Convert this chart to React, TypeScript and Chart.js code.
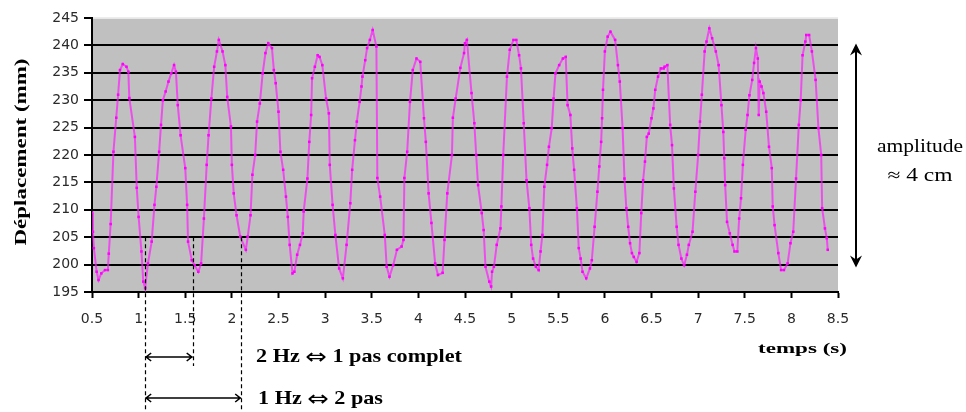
import { useEffect, useRef } from 'react';
import { Chart, registerables } from 'chart.js';

Chart.register(...registerables);

// Temps (s)
const times: number[] = [
  0.50, 0.51, 0.52, 0.55, 0.57, 0.60, 0.64, 0.67, 0.68, 0.70, 0.73, 0.76, 0.78, 0.80, 0.83, 0.87, 0.89, 0.90, 0.96, 0.98,
  1.00, 1.03, 1.05, 1.07, 1.10, 1.14, 1.17, 1.19, 1.22, 1.24, 1.26, 1.29, 1.32, 1.35, 1.38, 1.40, 1.42, 1.45, 1.50, 1.52,
  1.53, 1.57, 1.60, 1.64, 1.67, 1.70, 1.73, 1.75, 1.78, 1.81, 1.84, 1.86, 1.90, 1.93, 1.95, 1.99, 2.00, 2.02, 2.05, 2.09,
  2.15, 2.17, 2.20, 2.22, 2.25, 2.27, 2.30, 2.33, 2.36, 2.39, 2.43, 2.45, 2.47, 2.50, 2.52, 2.55, 2.58, 2.60, 2.62, 2.65,
  2.67, 2.70, 2.73, 2.76, 2.77, 2.81, 2.83, 2.85, 2.86, 2.89, 2.92, 2.94, 2.97, 3.01, 3.04, 3.05, 3.08, 3.11, 3.15, 3.19,
  3.23, 3.27, 3.29, 3.32, 3.34, 3.37, 3.39, 3.40, 3.43, 3.45, 3.48, 3.51, 3.55, 3.56, 3.59, 3.64, 3.66, 3.69, 3.73, 3.77,
  3.82, 3.84, 3.85, 3.88, 3.91, 3.94, 3.98, 4.02, 4.06, 4.08, 4.11, 4.14, 4.18, 4.21, 4.26, 4.28, 4.31, 4.36, 4.37, 4.40,
  4.45, 4.49, 4.50, 4.52, 4.57, 4.60, 4.62, 4.64, 4.68, 4.70, 4.72, 4.76, 4.78, 4.79, 4.81, 4.84, 4.88, 4.89, 4.91, 4.95,
  4.98, 5.02, 5.05, 5.08, 5.10, 5.13, 5.16, 5.19, 5.21, 5.23, 5.26, 5.29, 5.31, 5.33, 5.35, 5.38, 5.40, 5.43, 5.45, 5.47,
  5.51, 5.55, 5.58, 5.60, 5.63, 5.65, 5.67, 5.70, 5.72, 5.74, 5.76, 5.80, 5.84, 5.86, 5.89, 5.92, 5.94, 5.96, 5.97, 5.98,
  6.00, 6.03, 6.06, 6.11, 6.14, 6.16, 6.19, 6.21, 6.23, 6.25, 6.27, 6.29, 6.31, 6.34, 6.37, 6.39, 6.41, 6.43, 6.45, 6.47,
  6.50, 6.52, 6.54, 6.57, 6.60, 6.63, 6.64, 6.67, 6.70, 6.72, 6.74, 6.77, 6.79, 6.82, 6.85, 6.88, 6.90, 6.94, 6.97, 7.00,
  7.02, 7.04, 7.07, 7.09, 7.12, 7.15, 7.19, 7.22, 7.25, 7.27, 7.28, 7.29, 7.31, 7.34, 7.37, 7.39, 7.42, 7.44, 7.46, 7.48,
  7.51, 7.53, 7.55, 7.58, 7.60, 7.62, 7.64, 7.65, 7.66, 7.68, 7.70, 7.73, 7.76, 7.79, 7.80, 7.82, 7.86, 7.89, 7.92, 7.96,
  7.99, 8.02, 8.05, 8.08, 8.10, 8.12, 8.15, 8.16, 8.19, 8.22, 8.26, 8.29, 8.32, 8.33, 8.36, 8.38, 8.39,
];

// Déplacement (mm)
const displacement: number[] = [
  209.5, 206, 203, 198.7, 197.2, 198.4, 199, 199, 202, 207.4, 220.6, 226.8, 231, 235.5, 236.6, 236.1, 235.2, 230.4, 223.3, 214,
  208.7, 202.4, 196.9, 195.7, 200.2, 204.2, 210.9, 214.2, 220.6, 225.5, 230, 231.6, 233.4, 234.9, 236.4, 235.2, 229.1, 223.6, 217.6, 210.9,
  204.2, 200.8, 199.9, 198.7, 200.2, 208.4, 218.2, 223.6, 230.3, 236.1, 238.9, 241, 238.9, 236.4, 230.6, 225.2, 218.2, 213, 209, 205.1,
  202.7, 205.1, 209, 216.4, 220, 226.1, 229.4, 234.9, 238.6, 240.4, 239.5, 235.5, 233.1, 227.9, 220.6, 217.3, 212.4, 208.7, 203.6, 198.4,
  198.7, 201.8, 203.6, 205.7, 209.7, 215.7, 222.4, 227.3, 234, 236.1, 238.2, 237.9, 236.4, 230.3, 227.6, 218.2, 210.9, 205.4, 199.3, 197.5,
  203.6, 211.2, 217.3, 222.7, 226.1, 229.7, 232.5, 234.3, 237.3, 239.5, 241, 242.8, 239.8, 215.8, 212.4, 205.4, 199.6, 197.8, 199.9, 202.7,
  203.3, 204.5, 215.8, 220.6, 229.7, 235.5, 237.6, 237, 226.7, 222.4, 213, 207.6, 200.2, 198.1, 198.5, 204.5, 213, 220, 226.8, 230.3,
  235.9, 238.6, 240.4, 241, 231.3, 225.8, 220, 214.5, 209.4, 206.3, 199.6, 196.9, 196, 198.7, 199.6, 203.6, 206.6, 210.6, 220, 234.3,
  239.2, 241, 241, 238.2, 235.8, 225.8, 215.4, 210.3, 203.6, 201.1, 199.6, 199, 202.4, 205.4, 214.2, 218.2, 221.5, 224.9, 230.3, 234.9,
  236.4, 237.6, 237.9, 229.1, 227.3, 221.2, 217.3, 210.3, 203, 201.1, 198.7, 197.5, 199.3, 200.8, 206.9, 213.3, 217.9, 222.4, 226.7, 231.9,
  238.9, 241.6, 242.5, 241, 236.4, 233.4, 224.9, 215.7, 210.3, 206.9, 203.9, 202.1, 201.4, 200.5, 202.1, 209.4, 215.4, 218.8, 223.3, 223.9,
  226.7, 228.5, 231.9, 234.3, 235.8, 235.8, 236.1, 236.4, 225.5, 221.8, 213.9, 206.9, 203.6, 201.1, 199.9, 201.8, 203.6, 206, 213.3, 220,
  226.1, 231, 238.9, 240.7, 243.1, 241.3, 238.9, 236.4, 229.1, 224.2, 219.4, 214.5, 207.8, 205.7, 203.6, 202.4, 202.4, 208.4, 212.1, 218.2,
  224.6, 227.3, 230.9, 233.7, 236.8, 239.5, 237.6, 227.3, 233.4, 232.5, 231.3, 227.9, 221.5, 217.6, 210.6, 207.2, 202.1, 199, 199, 200.2,
  203.9, 206, 215.7, 225.5, 230, 238.2, 240.7, 241.9, 241.9, 238.9, 233.7, 224.9, 220, 210.3, 206.6, 204.8, 202.7,
];

const xTicks: number[] = [0.5, 1, 1.5, 2, 2.5, 3, 3.5, 4, 4.5, 5, 5.5, 6, 6.5, 7, 7.5, 8, 8.5];
const yTicks: number[] = [195, 200, 205, 210, 215, 220, 225, 230, 235, 240, 245];

// Repères de pas (s) et niveau de départ des pointillés (mm)
const stepMarks: number[] = [1.07, 1.58, 2.1];
const stepMarkLevel = 205;

const yTitle = 'Déplacement (mm)';
const xTitle = 'temps (s)';
const amplitudeLines: string[] = ['amplitude', '≈ 4 cm'];
const stepLabelsA: string[] = ['2 Hz', '1 pas complet'];
const stepLabelsB: string[] = ['1 Hz', '2 pas'];
const equivSymbol = '⇔';

function scaledText(
  ctx: CanvasRenderingContext2D,
  text: string,
  x: number,
  y: number,
  font: string,
  width: number,
  align: CanvasTextAlign,
  rotate = 0,
) {
  ctx.save();
  ctx.font = font;
  const w = ctx.measureText(text).width;
  ctx.translate(x, y);
  if (rotate) ctx.rotate(rotate);
  ctx.scale(width / w, 1);
  ctx.textAlign = align;
  ctx.textBaseline = 'middle';
  ctx.fillStyle = '#000';
  ctx.fillText(text, 0, 0);
  ctx.restore();
}

// Texte composé : morceaux avec leurs polices, mis à l'échelle vers une largeur cible
function richText(
  ctx: CanvasRenderingContext2D,
  parts: { text: string; font: string; dy?: number }[],
  x: number,
  y: number,
  width: number,
) {
  ctx.save();
  let total = 0;
  const ws = parts.map((p) => {
    ctx.font = p.font;
    const w = ctx.measureText(p.text).width;
    total += w;
    return w;
  });
  ctx.translate(x, y);
  ctx.scale(width / total, 1);
  ctx.textAlign = 'left';
  ctx.textBaseline = 'middle';
  ctx.fillStyle = '#000';
  let cx = 0;
  parts.forEach((p, i) => {
    ctx.font = p.font;
    ctx.fillText(p.text, cx, p.dy || 0);
    cx += ws[i];
  });
  ctx.restore();
}

function hArrow(ctx: CanvasRenderingContext2D, x1: number, x2: number, y: number) {
  ctx.save();
  ctx.strokeStyle = '#000';
  ctx.lineWidth = 1.6;
  ctx.beginPath();
  ctx.moveTo(x1, y);
  ctx.lineTo(x2, y);
  ctx.moveTo(x1 + 6, y - 4);
  ctx.lineTo(x1 + 1, y);
  ctx.lineTo(x1 + 6, y + 4);
  ctx.moveTo(x2 - 6, y - 4);
  ctx.lineTo(x2 - 1, y);
  ctx.lineTo(x2 - 6, y + 4);
  ctx.stroke();
  ctx.restore();
}

const decorations = {
  id: 'decorations',
  beforeDraw(chart: any) {
    const { ctx, chartArea } = chart;
    ctx.save();
    ctx.fillStyle = '#c0c0c0';
    ctx.fillRect(chartArea.left, chartArea.top, chartArea.right - chartArea.left, chartArea.bottom - chartArea.top);
    ctx.restore();
  },
  afterDraw(chart: any) {
    const { ctx } = chart;
    const xs = chart.scales.x;
    const ys = chart.scales.y;

    // Titre de l'axe Y
    scaledText(ctx, yTitle, 22, 152, 'bold 16px "Liberation Serif"', 187, 'center', -Math.PI / 2);
    // Titre de l'axe X
    scaledText(ctx, xTitle, 847, 349, 'bold 15px "Liberation Serif"', 89, 'right');

    // Flèche d'amplitude
    ctx.save();
    ctx.strokeStyle = '#000';
    ctx.fillStyle = '#000';
    ctx.lineWidth = 2;
    const ax = 856;
    const aTop = ys.getPixelForValue(240) - 2;
    const aBot = ys.getPixelForValue(200) + 3;
    ctx.beginPath();
    ctx.moveTo(ax, aTop + 4);
    ctx.lineTo(ax, aBot - 4);
    ctx.stroke();
    ctx.beginPath();
    ctx.moveTo(ax, aTop);
    ctx.lineTo(ax - 6, aTop + 12);
    ctx.lineTo(ax, aTop + 8);
    ctx.lineTo(ax + 6, aTop + 12);
    ctx.closePath();
    ctx.fill();
    ctx.beginPath();
    ctx.moveTo(ax, aBot);
    ctx.lineTo(ax - 6, aBot - 12);
    ctx.lineTo(ax, aBot - 8);
    ctx.lineTo(ax + 6, aBot - 12);
    ctx.closePath();
    ctx.fill();
    ctx.restore();

    scaledText(ctx, amplitudeLines[0], 920, 147, '18px "Liberation Serif"', 86, 'center');
    scaledText(ctx, amplitudeLines[1], 920, 176, '18px "Liberation Serif"', 65, 'center');

    // Pointillés des pas
    const yStart = ys.getPixelForValue(stepMarkLevel);
    const ends = [412, 366, 412];
    ctx.save();
    ctx.strokeStyle = '#000';
    ctx.lineWidth = 1.2;
    ctx.setLineDash([4, 3]);
    stepMarks.forEach((t, i) => {
      const px = Math.round(xs.getPixelForValue(t)) + 0.5;
      ctx.beginPath();
      ctx.moveTo(px, yStart);
      ctx.lineTo(px, ends[i]);
      ctx.stroke();
    });
    ctx.restore();

    const p0 = xs.getPixelForValue(stepMarks[0]);
    const p1 = xs.getPixelForValue(stepMarks[1]);
    const p2 = xs.getPixelForValue(stepMarks[2]);
    hArrow(ctx, p0, p1, 357);
    hArrow(ctx, p0, p2, 398);

    const serifBold = 'bold 19px "Liberation Serif"';
    const symFont = '22px "DejaVu Sans"';
    richText(
      ctx,
      [
        { text: stepLabelsA[0] + ' ', font: serifBold },
        { text: equivSymbol, font: symFont, dy: 1 },
        { text: ' ' + stepLabelsA[1], font: serifBold },
      ],
      256,
      357,
      206,
    );
    richText(
      ctx,
      [
        { text: stepLabelsB[0] + ' ', font: serifBold },
        { text: equivSymbol, font: symFont, dy: 1 },
        { text: ' ' + stepLabelsB[1], font: serifBold },
      ],
      258,
      399,
      125,
    );
  },
};

export default function App() {
  const ref = useRef<HTMLCanvasElement>(null);
  useEffect(() => {
    const chart = new Chart(ref.current as HTMLCanvasElement, {
      type: 'line',
      data: {
        datasets: [
          {
            data: times.map((t, i) => ({ x: t, y: displacement[i] })),
            borderColor: 'rgba(255, 30, 255, 0.7)',
            borderWidth: 2,
            pointStyle: 'rect',
            pointRadius: 1.8,
            pointBackgroundColor: '#ff00ff',
            pointBorderColor: '#ff00ff',
            pointBorderWidth: 0,
            tension: 0,
          },
        ],
      },
      options: {
        animation: false,
        responsive: false,
        devicePixelRatio: 1,
        layout: { padding: { top: 18, right: 128, left: 0, bottom: 0 } },
        plugins: { legend: { display: false }, tooltip: { enabled: false } },
        scales: {
          x: {
            type: 'linear',
            min: 0.5,
            max: 8.5,
            afterBuildTicks: (s: any) => {
              s.ticks = xTicks.map((v) => ({ value: v }));
            },
            afterFit: (s: any) => {
              s.height = 120;
            },
            grid: { drawOnChartArea: false, drawTicks: true, tickLength: 6, tickColor: '#000', tickWidth: 2 },
            border: { color: '#000', width: 2 },
            ticks: {
              font: { family: 'DejaVu Sans', size: 14 },
              color: '#2a2a2a',
              padding: 13,
              maxRotation: 0,
              autoSkip: false,
              callback: (v: any) => String(v),
            },
          },
          y: {
            min: 195,
            max: 245,
            afterBuildTicks: (s: any) => {
              s.ticks = yTicks.map((v) => ({ value: v }));
            },
            afterFit: (s: any) => {
              s.width = 92;
            },
            grid: {
              color: (c: any) => (c.tick && c.tick.value === 245 ? 'rgba(235,235,235,0.9)' : '#000'),
              lineWidth: 2,
              drawTicks: true,
              tickLength: 8,
              tickColor: '#000',
              tickWidth: 2,
            },
            border: { color: '#000', width: 2 },
            ticks: {
              font: { family: 'DejaVu Sans', size: 14 },
              color: '#2a2a2a',
              padding: 5,
              autoSkip: false,
              callback: (v: any) => String(v),
            },
          },
        },
      },
      plugins: [decorations],
    });
    return () => chart.destroy();
  }, []);
  return (
    <div style={{ position: 'fixed', left: 0, top: 0, width: 966, height: 412, background: '#fff' }}>
      <canvas ref={ref} width={966} height={412} style={{ display: 'block', width: 966, height: 412 }} />
    </div>
  );
}
